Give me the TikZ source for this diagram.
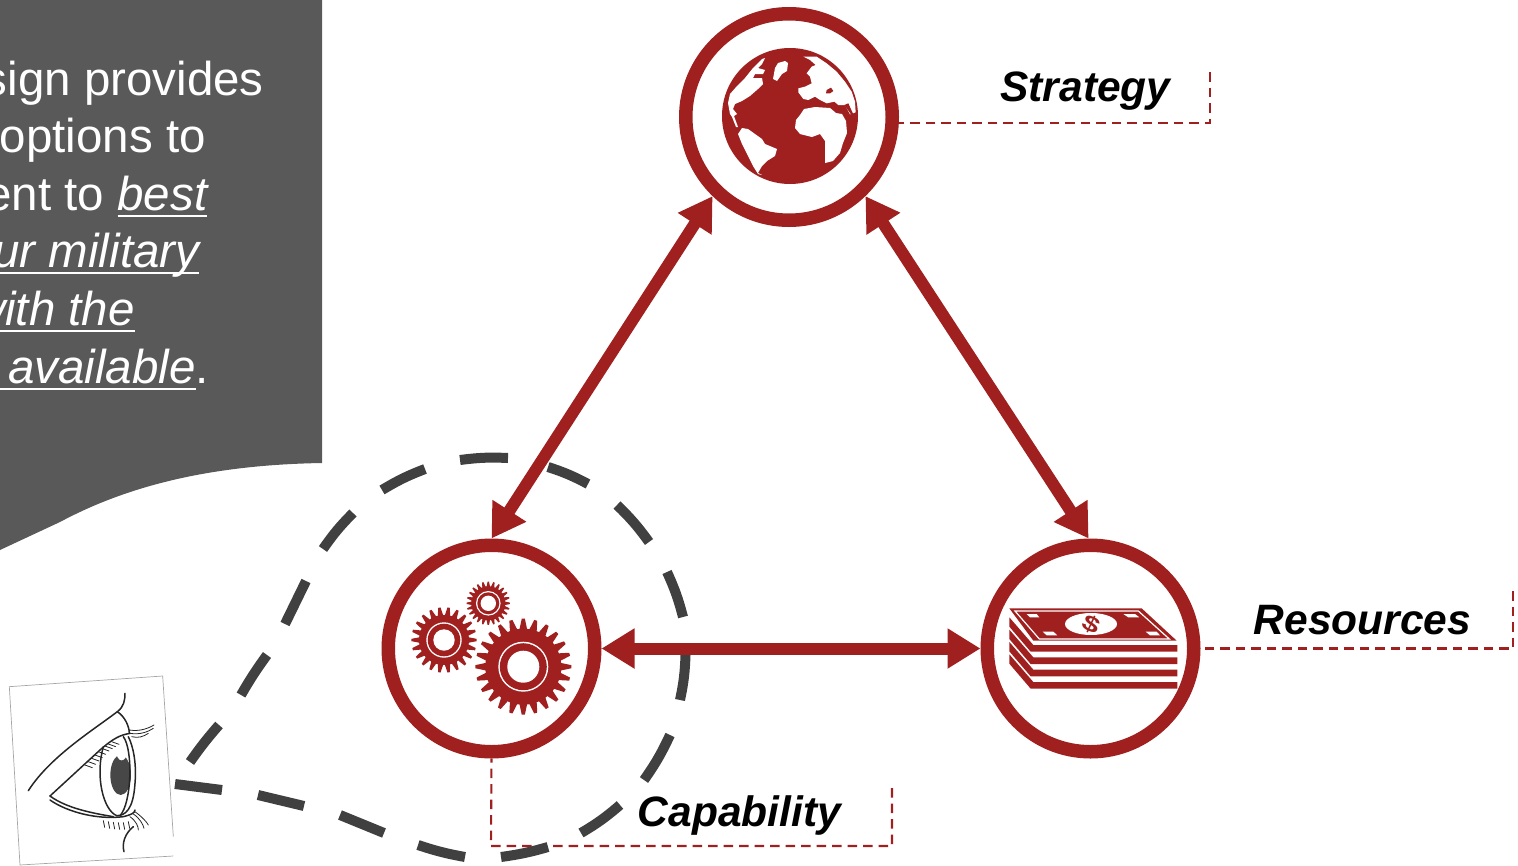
\documentclass[tikz,border=0pt]{standalone}
\usepackage{fontspec}
\setmainfont{Liberation Sans}
\definecolor{brick}{HTML}{A02020}
\definecolor{panel}{HTML}{595959}
\definecolor{dashgray}{HTML}{404040}
\usetikzlibrary{arrows.meta}
\tikzset{
  ring/.style={circle,draw=brick,line width=13.5pt,minimum size=206.5pt,inner sep=0pt},
  twoway/.style={draw=brick,line width=12pt,{Triangle[length=33pt,width=38pt]}-{Triangle[length=33pt,width=38pt]}},
  leader/.style={draw=brick,line width=2.1pt,dash pattern=on 9.5pt off 6pt},
  tag/.style={font=\fontsize{42.5}{42.5}\selectfont\bfseries\itshape,inner sep=0pt,text=black,anchor=base},
  paneltext/.style={font=\fontsize{47.5}{47.5}\selectfont,text=white,inner sep=0pt,anchor=base east},
  loopdash/.style={draw=dashgray,line width=10pt},
  eyeline/.style={draw=black!85,line width=1.5pt,line cap=round,line join=round},
  lash/.style={draw=black!85,line width=.8pt,line cap=round},
  framel/.style={draw=black!35,line width=.7pt}
}
\newcommand{\gearshape}[5]{%
  \fill[brick] plot[samples at={0,...,\numexpr4*#5-1\relax},variable=\k]
   ({#1+(ifthenelse(mod(\k,4)<2,#3,#4))*cos(90*(\k-0.5)/#5)},
    {#2+(ifthenelse(mod(\k,4)<2,#3,#4))*sin(90*(\k-0.5)/#5)}) -- cycle;
}
\newcommand{\gearhub}[5]{%
  \fill[white] (#1,#2) circle (#3);
  \fill[brick] (#1,#2) circle (#4);
  \fill[white] (#1,#2) circle (#5);
}
\newcommand{\ulin}[1]{\setbox0\hbox{#1}\rlap{\rule[-6.5pt]{\wd0}{1.9pt}}\box0}
\begin{document}
\begin{tikzpicture}[x=1pt,y=-1pt]
\useasboundingbox (0,0) rectangle (1518,865);
\begin{scope}
\clip (0,0) rectangle (1518,865);
\fill[panel] (0,0) -- (322,0) -- (322,463) .. controls (200,465) and (120,490) .. (60,522) .. controls (30,536) and (15,543) .. (0,550) -- cycle;
\node[paneltext] (l1) at (264,95) {sign provides};
\node[paneltext] (l2) at (206,152) {options to};
\node[paneltext] (l3) at (207.5,210) {ent to \ulin{\itshape best}};
\node[paneltext] (l4) at (199.5,267) {\ulin{\itshape ur military}};
\node[paneltext] (l5) at (135,325) {\ulin{\itshape with the}};
\node[paneltext] (l6) at (209,383) {\ulin{\hspace{10pt}\itshape available}.};
\end{scope}
\node[ring] (S) at (789,117) {};
\node[ring] (C) at (491.5,648.5) {};
\node[ring] (R) at (1090.5,648.5) {};
% leaders
\coordinate (a1) at (1210,72);
\coordinate (a2) at (1513,591);
\coordinate (a3) at (892,788);
\coordinate (b3) at (491,846);
\draw[leader] (a1) -- (a1 |- S.-3) -- (S.-3);
\draw[leader] (a2) -- (a2 |- R.east) -- (R.east);
\draw[leader] (a3) -- (a3 |- b3) -- (b3) -- (C.south);
% dashed loop
\draw[loopdash] (190,762) to[bend left=3] (219,725) (241,695) to[bend left=3] (267,655) (285,624) to (306,581)
 (323,549) to[bend left=5] (353,513) (382,490) to[bend left=5] (425,469) (460,460) to[bend left=5] (508,458)
 (548,467) to[bend left=5] (588,484) (617,505) to[bend left=5] (649,542) (667,572) to[bend left=5] (683,617)
 (685.5,655) to[bend left=5] (680,700) (670,735) to[bend left=5] (644,780) (620,805) to[bend left=5] (581,833)
 (548,847) to[bend left=4] (501,857) (465,857) to[bend left=4] (418,845) (384,833) to (340,815)
 (304,806) to (258,795) (222,790) to (175,784);
% arrows
\path[twoway] (S.226) -- (C.90);
\path[twoway] (S.-46) -- (R.91);
\path[twoway] (C.0) -- (R.180);
% labels
\node[tag] (t1) at (1085.5,101) {Strategy};
\node[tag] (t2) at (1362.5,634) {Resources};
\node[tag] (t3) at (739.5,826) {Capability};
% gears
\gearshape{523.3}{666.7}{48}{38}{24}
\gearhub{523.3}{666.7}{25}{23.5}{16}
\gearshape{444}{640}{32.7}{25}{22}
\gearhub{444}{640}{17.7}{16.3}{10.7}
\gearshape{488.3}{603.3}{21.7}{17}{24}
\gearhub{488.3}{603.3}{12.3}{11}{7.7}
% globe
\fill[brick] (790,116) circle (68);
\fill[white] (730,114) -- (728,103) -- (730,94) -- (737,86) -- (745,78) -- (753,68) -- (762,59) -- (765,58) -- (762,64) -- (758,68) -- (765,70) -- (763,74) -- (755,74) -- (753,78) -- (762,78) -- (763,84) -- (758,89) -- (750,96) -- (742,101) -- (735,104) -- (733,109) -- (737,114) -- (734,116) -- (738,127) -- (736,127) -- (732,117) -- cycle;
\fill[white] (773,79) -- (775,68) -- (778,63) -- (785,61) -- (788,63) -- (787,71) -- (782,74) -- (777,81) -- cycle;
\fill[white] (738,134) -- (742,128) -- (748,129) -- (755,134) -- (762,139) -- (765,144) -- (777,149) -- (775,156) -- (767,161) -- (762,166) -- (758,173) -- (762,175) -- (758,174) -- (753,166) -- (747,154) -- (742,144) -- cycle;
\fill[white] (795,128) -- (800,134) -- (812,137) -- (820,134) -- (825,141) -- (825,163) -- (833,161) -- (840,153) -- (843,143) -- (847,133) -- (846,121) -- (842,114) -- (836,113) -- (830,108) -- (815,107) -- (804,109) -- (800,115) -- (796,120) -- cycle;
\begin{scope}[shift={(795,55)},scale=1/3]
\fill[white] (25,5) -- (65,5) -- (95,25) -- (125,50) -- (150,80) -- (170,110) -- (180,140) -- (182,172) -- (165,178) -- (150,150) -- (130,150) -- (118,140) -- (95,145) -- (75,135) -- (60,125) -- (40,135) -- (25,132) -- (10,112) -- (10,100) -- (30,95) -- (50,85) -- (45,65) -- (35,55) -- (50,35) -- (62,30) -- (45,15) -- cycle;
\fill[brick] (95,105) -- (108,98) -- (115,108) -- (105,115) -- (93,115) -- cycle;
\fill[brick] (148,150) -- (160,145) -- (175,178) -- (168,178) -- cycle;
\end{scope}
\begin{scope}[shift={(720,116)},scale=1/3]
\fill[brick] (368,100) -- (376,75) -- (380,80) -- (372,104) -- cycle;
\end{scope}
% money
\begin{scope}[shift={(980,530)},scale=1/3]
\fill[brick] (88,235) -- (485,235) -- (590,332) -- (160,332) -- cycle;
\draw[white,line width=1.2pt] (105,243) -- (475,243) -- (568,327) -- (178,327) -- cycle;
\fill[white] (333,282) ellipse (78 and 33);
\fill[white] (140,252) -- (170,252) -- (178,262) -- (150,262) -- cycle;
\fill[white] (430,252) -- (465,252) -- (478,262) -- (445,262) -- cycle;
\fill[white] (188,305) -- (220,305) -- (232,316) -- (200,316) -- cycle;
\fill[white] (497,305) -- (530,305) -- (540,316) -- (510,316) -- cycle;
\foreach \d in {0,37,74,111}{
  \fill[brick] (88,262+\d) -- (160,345+\d) -- (592,345+\d) -- (592,365+\d) -- (152,365+\d) -- (88,290+\d) -- cycle;
}
\end{scope}
\node[font=\bfseries\fontsize{22}{22}\selectfont,text=brick,inner sep=0pt,rotate=-25,xscale=1.4] (dollar) at (1091,624) {\$};
% eye
\begin{scope}[shift={(0,670)},scale=1/3]
\draw[framel] (520,500) -- (488,18) -- (28,50) -- (60,585) -- (520,558);
\draw[eyeline] (85,362) .. controls (150,260) and (280,180) .. (352,125) .. controls (372,110) and (375,90) .. (375,70);
\draw[eyeline] (352,125) .. controls (375,140) and (388,170) .. (388,190);
\draw[eyeline] (150,378) -- (300,240) .. controls (340,205) and (360,195) .. (390,190);
\fill[black!72] (362,315) ellipse (31 and 60);
\fill[white] (365,245) ellipse (16 and 26);
\draw[eyeline] (310,230) .. controls (285,320) and (310,420) .. (350,437) .. controls (375,437) and (400,420) .. (405,340) .. controls (410,280) and (400,230) .. (385,200);
\draw[eyeline] (370,200) .. controls (400,240) and (395,400) .. (360,437);
\draw[eyeline] (150,378) .. controls (200,415) and (280,430) .. (340,440);
\draw[eyeline] (150,390) .. controls (200,425) and (290,450) .. (370,440) .. controls (390,435) and (405,430) .. (405,420);
\draw[eyeline] (400,470) .. controls (375,490) and (365,520) .. (372,545);
\draw[lash] (388,180) .. controls (420,185) and (445,175) .. (462,165) (390,190) .. controls (420,195) and (445,185) .. (460,175) (395,200) .. controls (415,205) and (430,200) .. (445,190);
\draw[lash] (405,425) .. controls (425,440) and (440,455) .. (445,465) (400,432) .. controls (420,445) and (430,465) .. (432,475) (390,440) .. controls (410,455) and (415,470) .. (415,480);
\foreach \xa/\ya in {310/452,325/455,340/457,355/458,370/458,385/455}{
  \draw[lash] (\xa,\ya) -- ++(4,20);
}
\foreach \xa/\ya in {255/285,265/275,275/265,285/255,295/245,305/235,315/228,325/222,335/215}{
  \draw[lash] (\xa,\ya) -- ++(22,8);
}
\end{scope}
\end{tikzpicture}
\end{document}
